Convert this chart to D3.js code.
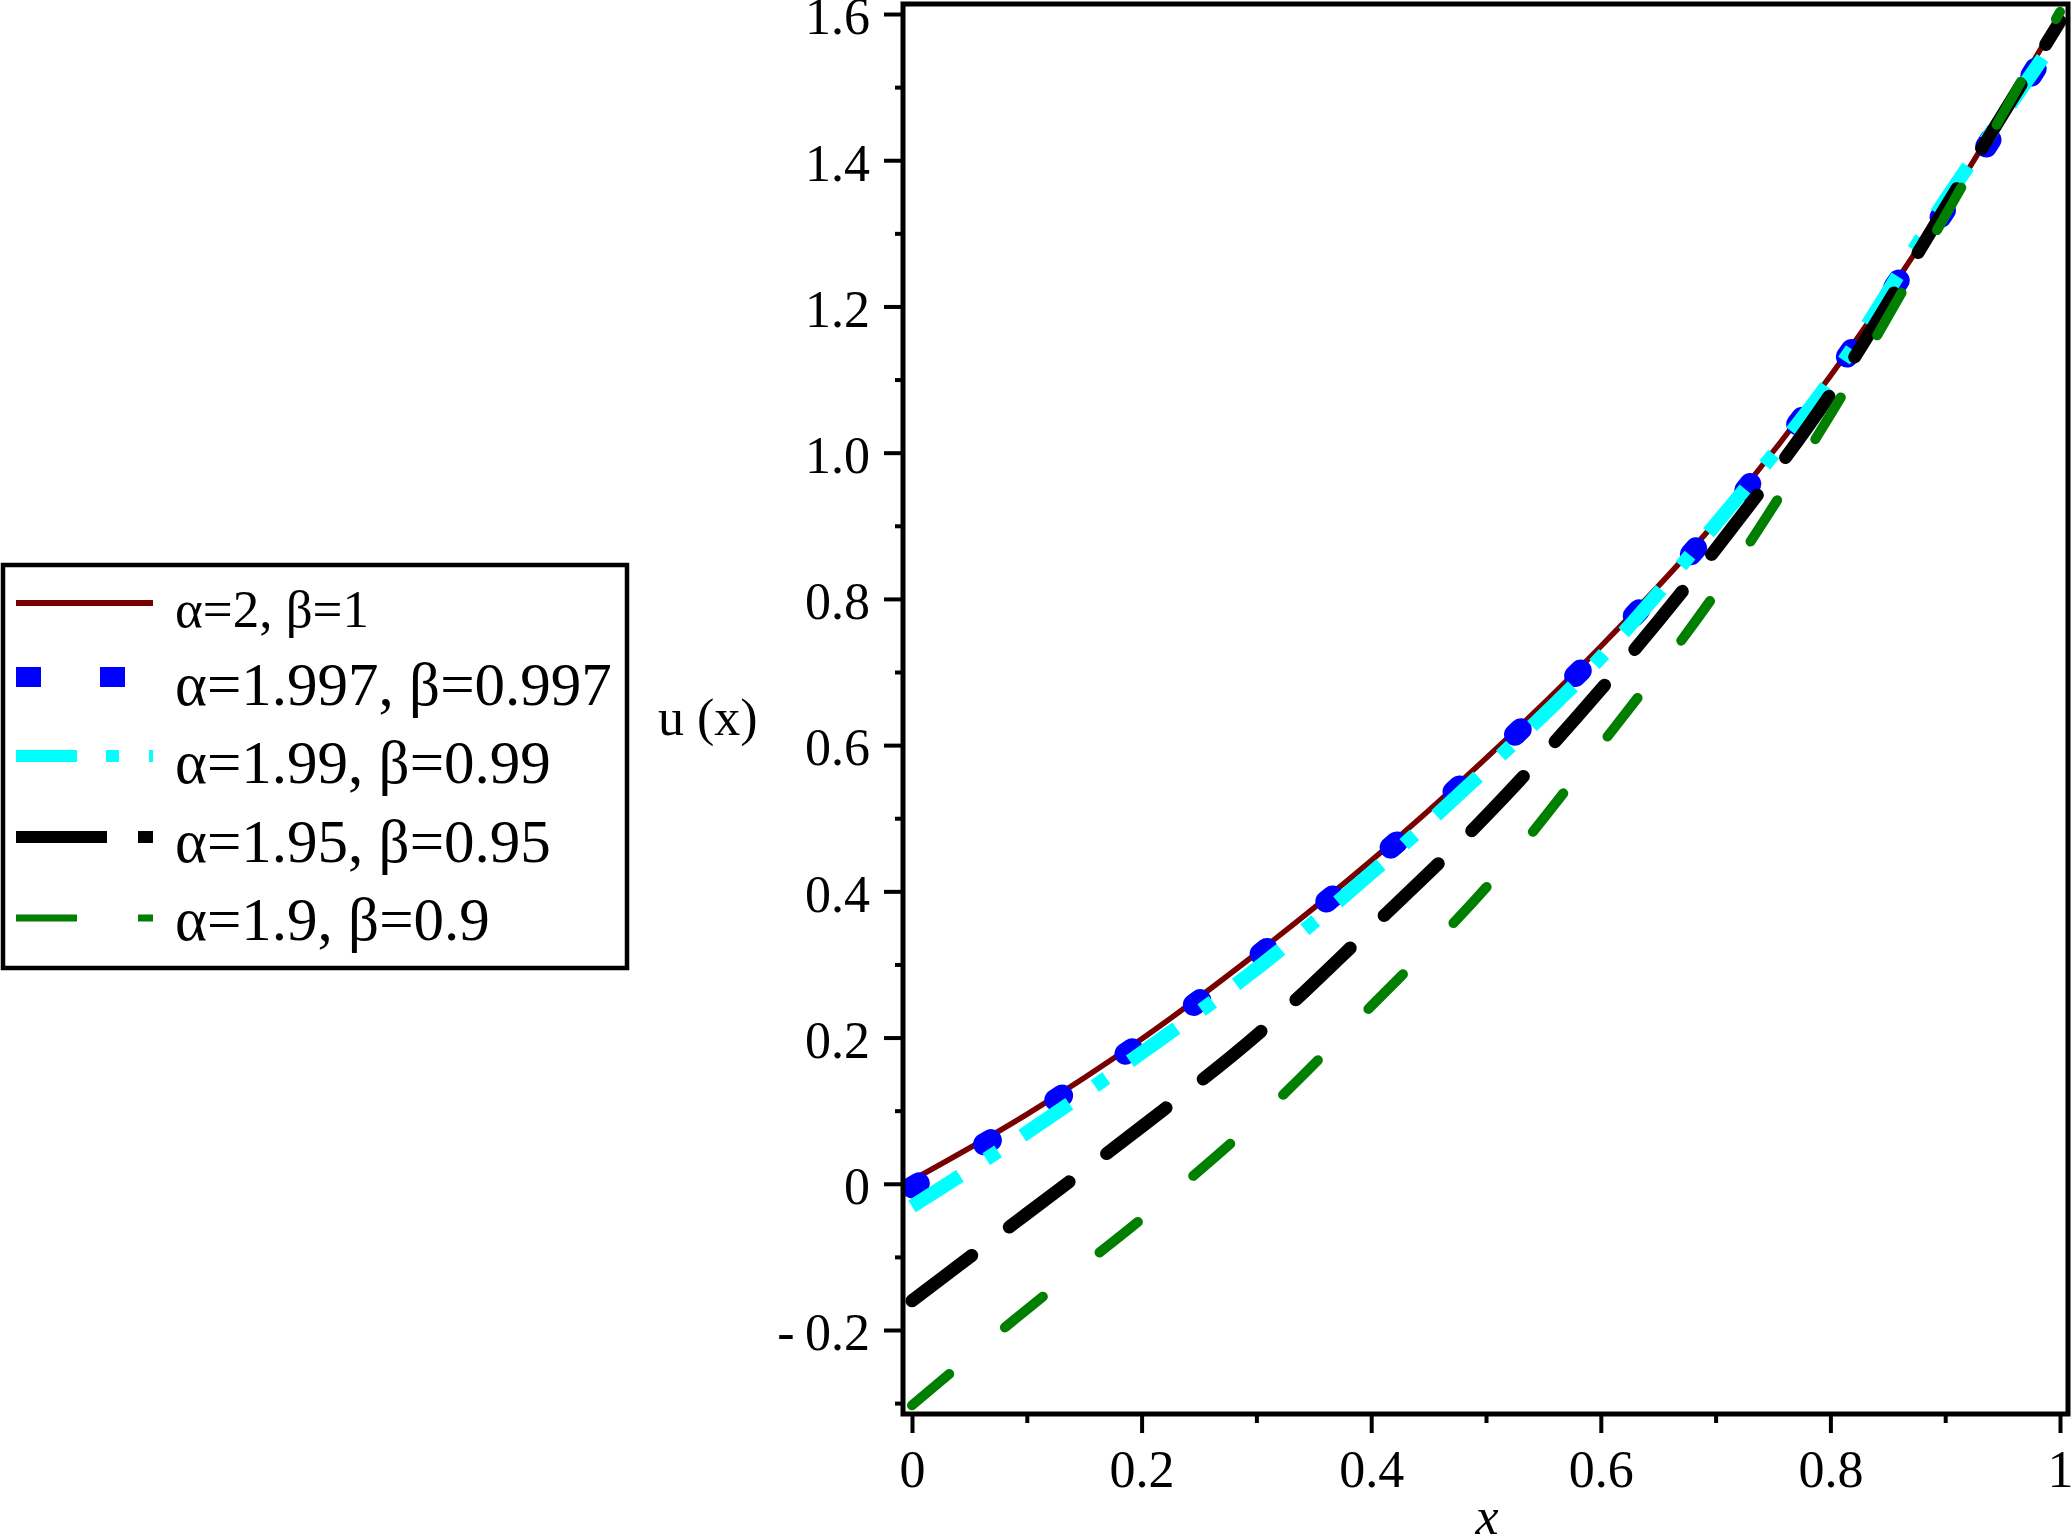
<!DOCTYPE html>
<html>
<head>
<meta charset="utf-8">
<script src="https://cdn.jsdelivr.net/npm/d3@7"></script>
<style>
  html, body { margin: 0; padding: 0; background: #fff; }
  svg { display: block; }
  text { font-family: "Liberation Serif", "Times New Roman", "DejaVu Serif", serif; fill: #000; }
</style>
</head>
<body>
<svg id="chart" width="2071" height="1540"></svg>
<script>
// ---------------- data ----------------
const xValues = [0, 0.1, 0.2, 0.3, 0.4, 0.5, 0.6, 0.7, 0.8, 0.9, 1.0];
const uA2B1       = [0.005, 0.095, 0.198, 0.315, 0.442, 0.582, 0.735, 0.905, 1.105, 1.337, 1.597];
const uA1997B0997 = [-0.005, 0.090, 0.193, 0.310, 0.437, 0.577, 0.730, 0.900, 1.100, 1.332, 1.578];
const uA199B099   = [-0.031, 0.070, 0.179, 0.294, 0.425, 0.567, 0.720, 0.902, 1.099, 1.345, 1.574];
const uA195B095   = [-0.160, -0.041, 0.078, 0.203, 0.350, 0.503, 0.676, 0.868, 1.080, 1.335, 1.590];
const uA19B09     = [-0.303, -0.172, -0.048, 0.087, 0.243, 0.405, 0.600, 0.808, 1.052, 1.324, 1.603];
const seriesLabels = ["α=2, β=1", "α=1.997, β=0.997", "α=1.99, β=0.99", "α=1.95, β=0.95", "α=1.9, β=0.9"];

const xTickValues = [0, 0.2, 0.4, 0.6, 0.8, 1];
const xTickLabels = ["0", "0.2", "0.4", "0.6", "0.8", "1"];
const xMinorTicks = [0.1, 0.3, 0.5, 0.7, 0.9];
const yTickValues = [-0.2, 0, 0.2, 0.4, 0.6, 0.8, 1.0, 1.2, 1.4, 1.6];
const yTickLabels = ["-\u20090.2", "0", "0.2", "0.4", "0.6", "0.8", "1.0", "1.2", "1.4", "1.6"];
const yMinorTicks = [-0.3, -0.1, 0.1, 0.3, 0.5, 0.7, 0.9, 1.1, 1.3, 1.5];
const xAxisTitle = "x";
const yAxisTitle = "u (x)";

// ---------------- styles ----------------
const styles = [
  { color: "#780000", width: 5.5, dash: null, cap: "butt",
    legendWidth: 6, legendDash: null, legendCap: "butt", legendSize: 53 },
  { color: "#0000ff", width: 22, dash: "8,76", cap: "round",
    legendWidth: 20, legendDash: "25,59", legendCap: "butt", legendSize: 61 },
  { color: "#00ffff", width: 14, dash: "57,31,14,29", cap: "butt",
    legendWidth: 12, legendDash: "61,29,13,30", legendCap: "butt", legendSize: 61 },
  { color: "#000000", width: 13, dash: "75,47", cap: "round",
    legendWidth: 12, legendDash: "91,31", legendCap: "butt", legendSize: 61 },
  { color: "#007f00", width: 10, dash: "49,72", cap: "round",
    legendWidth: 7, legendDash: "61,61", legendCap: "butt", legendSize: 61 }
];
const allSeries = [uA2B1, uA1997B0997, uA199B099, uA195B095, uA19B09];

// ---------------- layout ----------------
const plot = { left: 903, right: 2068, top: 4, bottom: 1414 };
const svg = d3.select("#chart");

const x = d3.scaleLinear().domain([-0.00784, 1.00697]).range([plot.left, plot.right]);
const y = d3.scaleLinear().domain([-0.3149, 1.6137]).range([plot.bottom, plot.top]);

// clip
svg.append("defs").append("clipPath").attr("id", "plotClip")
  .append("rect")
  .attr("x", plot.left).attr("y", plot.top)
  .attr("width", plot.right - plot.left).attr("height", plot.bottom - plot.top);

// curves
const line = d3.line()
  .x((d, i) => x(xValues[i]))
  .y(d => y(d))
  .curve(d3.curveCatmullRom.alpha(0.5));

const curves = svg.append("g").attr("clip-path", "url(#plotClip)");
allSeries.forEach((s, k) => {
  const st = styles[k];
  curves.append("path")
    .datum(s)
    .attr("d", line)
    .attr("fill", "none")
    .attr("stroke", st.color)
    .attr("stroke-width", st.width)
    .attr("stroke-linecap", st.cap)
    .attr("stroke-linejoin", "round")
    .attr("stroke-dasharray", st.dash);
});

// axes
const fontSize = 52;
const yAxisMajor = d3.axisLeft(y).tickValues(yTickValues)
  .tickSize(19).tickPadding(14)
  .tickFormat((d, i) => yTickLabels[i]);
const yAxisMinor = d3.axisLeft(y).tickValues(yMinorTicks).tickSize(8).tickFormat("");
const xAxisMajor = d3.axisBottom(x).tickValues(xTickValues)
  .tickSize(19).tickPadding(19)
  .tickFormat((d, i) => xTickLabels[i]);
const xAxisMinor = d3.axisBottom(x).tickValues(xMinorTicks).tickSize(9).tickFormat("");

function styleAxis(g) {
  g.select(".domain").remove();
  g.selectAll(".tick line").attr("stroke", "#000").attr("stroke-width", 4);
  g.selectAll(".tick text")
    .style("font-family", '"Liberation Serif", "Times New Roman", serif')
    .style("font-size", fontSize + "px")
    .attr("fill", "#000");
}

svg.append("g").attr("transform", `translate(${plot.left},0)`).call(yAxisMinor).call(styleAxis);
const gy = svg.append("g").attr("transform", `translate(${plot.left},0)`).call(yAxisMajor).call(styleAxis);
gy.selectAll(".tick text").attr("dy", "0.38em");
svg.append("g").attr("transform", `translate(0,${plot.bottom})`).call(xAxisMinor).call(styleAxis);
const gx = svg.append("g").attr("transform", `translate(0,${plot.bottom})`).call(xAxisMajor).call(styleAxis);
gx.selectAll(".tick text").attr("y", 73).attr("dy", 0);

// frame
svg.append("rect")
  .attr("x", plot.left).attr("y", plot.top)
  .attr("width", plot.right - plot.left).attr("height", plot.bottom - plot.top)
  .attr("fill", "none").attr("stroke", "#000").attr("stroke-width", 5);

// axis titles
svg.append("text").attr("x", 658).attr("y", 735)
  .style("font-size", fontSize + "px").text(yAxisTitle);
svg.append("text").attr("x", 1487).attr("y", 1534)
  .attr("text-anchor", "middle")
  .style("font-size", fontSize + "px").style("font-style", "italic").text(xAxisTitle);

// legend
const legend = svg.append("g");
legend.append("rect")
  .attr("x", 3).attr("y", 565).attr("width", 624).attr("height", 403)
  .attr("fill", "#fff").attr("stroke", "#000").attr("stroke-width", 4.5);
const rowLineY = [603, 677, 756, 837, 918];
const rowTextY = [627, 705, 783, 862, 940];
seriesLabels.forEach((lab, k) => {
  const st = styles[k];
  legend.append("line")
    .attr("x1", 16).attr("x2", 153)
    .attr("y1", rowLineY[k]).attr("y2", rowLineY[k])
    .attr("stroke", st.color)
    .attr("stroke-width", st.legendWidth)
    .attr("stroke-linecap", st.legendCap)
    .attr("stroke-dasharray", st.legendDash);
  legend.append("text")
    .attr("x", 175).attr("y", rowTextY[k])
    .style("font-size", st.legendSize + "px")
    .text(lab);
});
</script>
</body>
</html>
